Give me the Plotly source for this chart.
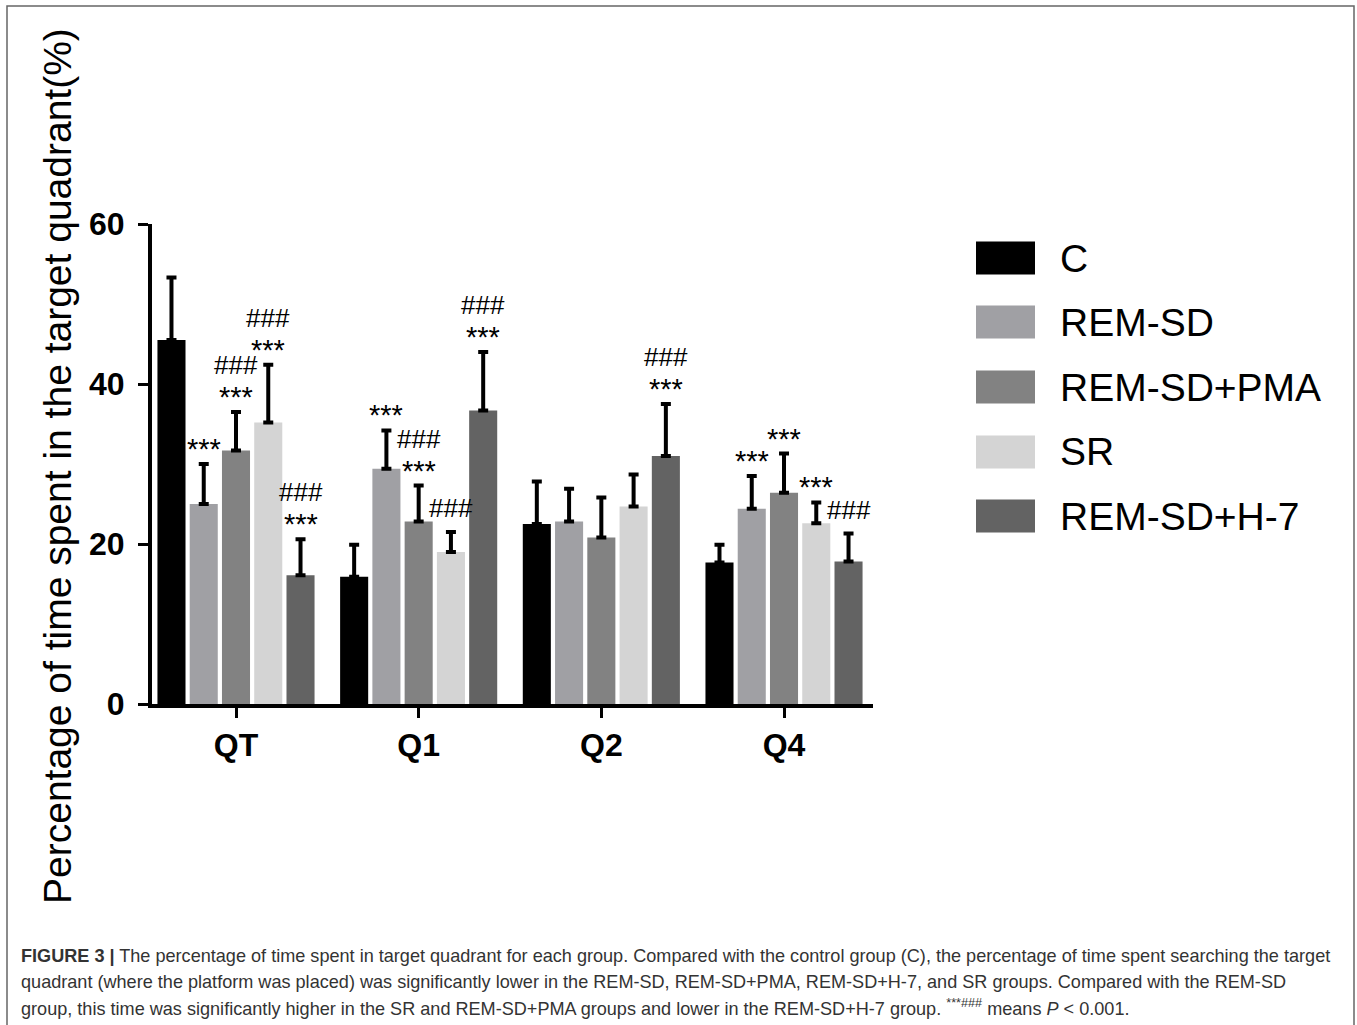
import plotly.graph_objects as go

W, H = 1357, 1025

categories = ["QT", "Q1", "Q2", "Q4"]
groups = ["C", "REM-SD", "REM-SD+PMA", "SR", "REM-SD+H-7"]
colors = ["#000000", "#a0a0a4", "#828282", "#d4d4d4", "#636363"]

mean_C = [45.5, 15.9, 22.5, 17.7]
mean_REMSD = [25.0, 29.4, 22.8, 24.4]
mean_PMA = [31.7, 22.8, 20.8, 26.4]
mean_SR = [35.2, 19.0, 24.7, 22.6]
mean_H7 = [16.1, 36.7, 31.0, 17.8]

sd_C = [7.8, 4.0, 5.3, 2.2]
sd_REMSD = [5.0, 4.8, 4.1, 4.1]
sd_PMA = [4.8, 4.5, 5.0, 4.9]
sd_SR = [7.2, 2.5, 4.0, 2.6]
sd_H7 = [4.5, 7.3, 6.5, 3.5]

# significance vs C (***) and vs REM-SD (###)
star_C = ["", "", "", ""]
star_REMSD = ["***", "***", "", "***"]
star_PMA = ["***", "***", "", "***"]
star_SR = ["***", "", "", "***"]
star_H7 = ["***", "***", "***", ""]

hash_C = ["", "", "", ""]
hash_REMSD = ["", "", "", ""]
hash_PMA = ["###", "###", "", ""]
hash_SR = ["###", "###", "", ""]
hash_H7 = ["###", "###", "###", "###"]

y_ticks = [0, 20, 40, 60]
y_title = "Percentage of time spent in the target quadrant(%)"

caption_lines = [
    "<b>FIGURE 3 |</b> The percentage of time spent in target quadrant for each group. Compared with the control group (C), the percentage of time spent searching the target",
    "quadrant (where the platform was placed) was significantly lower in the REM-SD, REM-SD+PMA, REM-SD+H-7, and SR groups. Compared with the REM-SD",
    "group, this time was significantly higher in the SR and REM-SD+PMA groups and lower in the REM-SD+H-7 group. <sup>***###</sup> means <i>P</i> &lt; 0.001.",
]

means = [mean_C, mean_REMSD, mean_PMA, mean_SR, mean_H7]
sds = [sd_C, sd_REMSD, sd_PMA, sd_SR, sd_H7]
stars = [star_C, star_REMSD, star_PMA, star_SR, star_H7]
hashes = [hash_C, hash_REMSD, hash_PMA, hash_SR, hash_H7]

FONT = "Liberation Sans, Arial, sans-serif"
xs = list(range(len(categories)))
bargap = 0.117
bargroupgap = 0.13

def px_x(p):
    return p / W

def px_y(p):
    return 1 - p / H

fig = go.Figure()
for k, g in enumerate(groups):
    fig.add_trace(go.Bar(
        x=xs, y=means[k], name=g,
        marker=dict(color=colors[k], line=dict(width=0)),
        error_y=dict(type="data", symmetric=False, array=sds[k],
                     arrayminus=[0] * len(xs), color="#000000",
                     thickness=4, width=5),
        showlegend=False,
    ))

n = len(groups)
pitch = (1 - bargap) / n
annotations = []
for k in range(n):
    for i in xs:
        xc = i + (k - (n - 1) / 2) * pitch
        top = means[k][i] + sds[k][i]
        has_star = bool(stars[k][i])
        if has_star:
            annotations.append(dict(
                x=xc, y=top, xref="x", yref="y", text=stars[k][i],
                showarrow=False, xanchor="center", yanchor="bottom", yshift=-3,
                font=dict(family=FONT, size=29, color="#000000"),
            ))
        if hashes[k][i]:
            annotations.append(dict(
                x=xc, y=top, xref="x", yref="y", text=hashes[k][i],
                showarrow=False, xanchor="center", yanchor="bottom",
                yshift=30 if has_star else 7,
                font=dict(family=FONT, size=26, color="#000000"),
            ))

# y axis title
annotations.append(dict(
    x=px_x(58), y=px_y(466), xref="paper", yref="paper", text=y_title,
    textangle=-90, showarrow=False, xanchor="center", yanchor="middle",
    font=dict(family=FONT, size=39, color="#000000"),
))

# legend (drawn manually for the large swatches)
shapes = []
leg_y = [258, 322, 387, 452, 516]
for k, g in enumerate(groups):
    shapes.append(dict(type="rect", xref="paper", yref="paper",
                       x0=px_x(976), x1=px_x(1035),
                       y0=px_y(leg_y[k] + 16.5), y1=px_y(leg_y[k] - 16.5),
                       fillcolor=colors[k], line=dict(width=0)))
    annotations.append(dict(
        x=px_x(1058), y=px_y(leg_y[k]), xref="paper", yref="paper", text=g,
        showarrow=False, xanchor="left", yanchor="middle",
        font=dict(family=FONT, size=39, color="#000000"),
    ))

# caption
cap_y = [956, 982, 1007]
for t, yy in zip(caption_lines, cap_y):
    annotations.append(dict(
        x=px_x(19), y=px_y(yy), xref="paper", yref="paper", text=t,
        showarrow=False, xanchor="left", yanchor="middle", align="left",
        font=dict(family=FONT, size=18.1, color="#333333"),
    ))

# frame (top, left, right)
shapes.append(dict(type="path", xref="paper", yref="paper",
                   path=f"M {px_x(7)},{px_y(1030)} L {px_x(7)},{px_y(6)} L {px_x(1354)},{px_y(6)} L {px_x(1354)},{px_y(1030)}",
                   line=dict(color="#666666", width=1.5)))

x_lo = -(236 - 152) / 182.67
x_hi = (873 - 236) / 182.67

fig.update_layout(
    width=W, height=H,
    margin=dict(l=0, r=0, t=0, b=0, autoexpand=False),
    paper_bgcolor="#ffffff", plot_bgcolor="#ffffff",
    barmode="group", bargap=bargap, bargroupgap=bargroupgap,
    showlegend=False,
    xaxis=dict(domain=[px_x(152), px_x(873)], range=[x_lo, x_hi],
               tickmode="array", tickvals=xs, ticktext=categories,
               showline=True, linecolor="#000000", linewidth=4,
               ticks="outside", ticklen=10, tickwidth=3, tickcolor="#000000",
               tickfont=dict(family=FONT, size=32, color="#000000", weight="bold"),
               showgrid=False, zeroline=False, fixedrange=True),
    yaxis=dict(domain=[px_y(704), px_y(224)], range=[0, 60],
               tickmode="array", tickvals=y_ticks,
               showline=True, linecolor="#000000", linewidth=4,
               ticks="outside", ticklen=10, tickwidth=3, tickcolor="#000000",
               ticklabelstandoff=7,
               tickfont=dict(family=FONT, size=32, color="#000000", weight="bold"),
               showgrid=False, zeroline=False, fixedrange=True),
    annotations=annotations,
    shapes=shapes,
)

fig.write_html("out.html", config={"displayModeBar": False},
               post_script="document.body.style.margin='0px'; document.body.style.overflow='hidden';")
